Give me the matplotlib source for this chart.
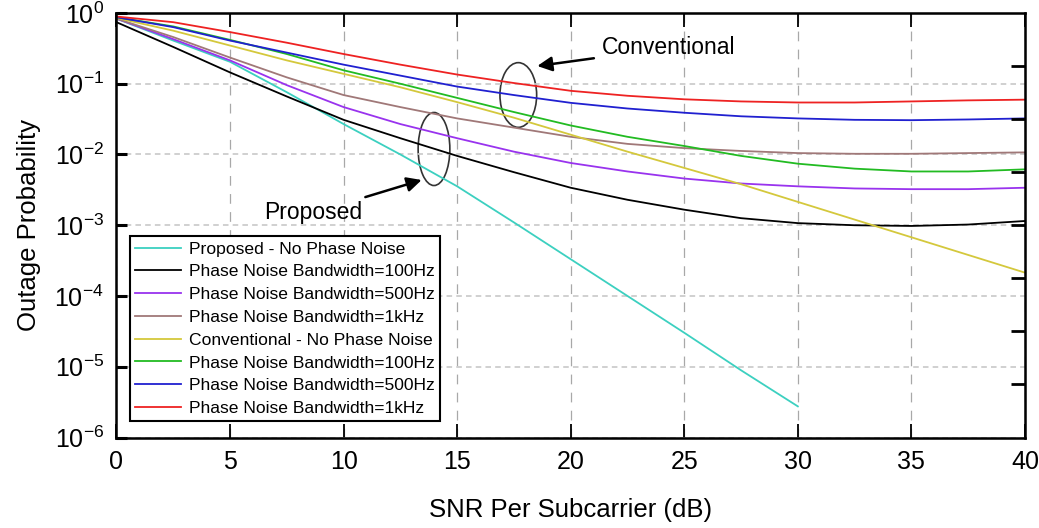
import numpy as np
import matplotlib
matplotlib.use("Agg")
import matplotlib.pyplot as plt
from matplotlib.patches import Ellipse

plt.rcParams['font.family'] = ['Liberation Sans', 'DejaVu Sans']
plt.rcParams['mathtext.fontset'] = 'custom'
plt.rcParams['mathtext.rm'] = 'Liberation Sans'
plt.rcParams['mathtext.it'] = 'Liberation Sans'
plt.rcParams['axes.unicode_minus'] = False
plt.rcParams['lines.scale_dashes'] = False

# SNR points (dB) and outage probability, stored as log10
snr = [0, 2.5, 5, 7.5, 10, 12.5, 15, 17.5, 20, 22.5, 25, 27.5, 30, 32.5, 35, 37.5, 40]
snr_nopn = [0, 2.5, 5, 7.5, 10, 12.5, 15, 17.5, 20, 22.5, 25, 27.5, 30]

prop_nopn = [-0.08, -0.39, -0.69, -1.12, -1.57, -2.0, -2.45, -2.96, -3.48, -4.0, -4.52, -5.05, -5.56]
prop_100 = [-0.13, -0.48, -0.84, -1.18, -1.51, -1.77, -2.02, -2.25, -2.47, -2.64, -2.78, -2.9, -2.97, -3.0, -3.01, -2.99, -2.94]
prop_500 = [-0.08, -0.37, -0.67, -1.02, -1.33, -1.57, -1.77, -1.96, -2.12, -2.24, -2.34, -2.41, -2.45, -2.48, -2.49, -2.49, -2.47]
prop_1k = [-0.08, -0.34, -0.63, -0.91, -1.16, -1.33, -1.49, -1.62, -1.75, -1.85, -1.91, -1.95, -1.98, -1.99, -1.99, -1.98, -1.97]
conv_nopn = [-0.07, -0.25, -0.46, -0.67, -0.86, -1.05, -1.26, -1.48, -1.72, -1.96, -2.19, -2.42, -2.67, -2.92, -3.17, -3.42, -3.67]
conv_100 = [-0.06, -0.19, -0.38, -0.58, -0.81, -1.0, -1.2, -1.40, -1.59, -1.75, -1.88, -2.02, -2.13, -2.2, -2.24, -2.24, -2.21]
conv_500 = [-0.06, -0.2, -0.39, -0.56, -0.73, -0.885, -1.04, -1.16, -1.27, -1.35, -1.41, -1.46, -1.49, -1.51, -1.515, -1.505, -1.49]
conv_1k = [-0.05, -0.13, -0.27, -0.42, -0.58, -0.73, -0.87, -0.99, -1.1, -1.17, -1.22, -1.25, -1.265, -1.265, -1.25, -1.235, -1.225]

labels = ["Proposed - No Phase Noise", "Phase Noise Bandwidth=100Hz", "Phase Noise Bandwidth=500Hz",
          "Phase Noise Bandwidth=1kHz", "Conventional - No Phase Noise", "Phase Noise Bandwidth=100Hz",
          "Phase Noise Bandwidth=500Hz", "Phase Noise Bandwidth=1kHz"]
colors = ['#3cd0c0', '#000000', '#9933ee', '#a07878', '#d4c83c', '#22bb22', '#2020d0', '#ee2222']
series = [(snr_nopn, prop_nopn), (snr, prop_100), (snr, prop_500), (snr, prop_1k),
          (snr, conv_nopn), (snr, conv_100), (snr, conv_500), (snr, conv_1k)]

fig = plt.figure(figsize=(10.39, 5.28), dpi=100)
ax = fig.add_axes([0.1121, 0.1714, 0.8744, 0.8040])

for (x, y), c, lab in zip(series, colors, labels):
    ax.plot(x, np.power(10.0, y), color=c, linewidth=1.3, label=lab)

ax.set_yscale('log')
ax.set_xlim(0, 40)
ax.set_ylim(1e-6, 1)
ax.set_xticks(range(0, 41, 5))
ax.set_yticks([10.0 ** k for k in range(-6, 1)])
ax.yaxis.set_minor_locator(matplotlib.ticker.NullLocator())
ax.tick_params(axis='both', labelsize=18)
ax.tick_params(axis='x', direction='in', length=10, width=1.3, top=True, pad=9)
ax.tick_params(axis='y', direction='in', length=8, width=2.2, right=False, pad=9)
for s in ax.spines.values():
    s.set_linewidth(1.8)

ax.xaxis.grid(True, linestyle=(0, (7, 6)), color='#a8a8a8', linewidth=0.9)
ax.yaxis.grid(True, linestyle=(0, (4, 3)), color='#c8c8c8', linewidth=1.2)

ax2 = ax.twinx()
ax2.set_ylim(0, 8)
ax2.set_yticks(range(1, 8))
ax2.tick_params(axis='y', direction='in', length=10, width=2, labelright=False)

ax.set_xlabel("SNR Per Subcarrier (dB)", fontsize=18.5, labelpad=17)
ax.set_ylabel("Outage Probability", fontsize=18.5, labelpad=10)

leg = ax.legend(loc='lower left', bbox_to_anchor=(0.015, 0.038), borderaxespad=0, fontsize=12.6,
                fancybox=False, edgecolor='black', framealpha=1, handlelength=2.6,
                handletextpad=0.45, labelspacing=0.43, borderpad=0.3)
leg.get_frame().set_linewidth(1.5)

ax.add_patch(Ellipse((0.4423, 0.8068), 0.0404, 0.1524, transform=ax.transAxes,
                     fill=False, edgecolor='#333333', linewidth=1.2))
ax.add_patch(Ellipse((0.3495, 0.6796), 0.0349, 0.172, transform=ax.transAxes,
                     fill=False, edgecolor='#333333', linewidth=1.2))

ax.annotate("Conventional", xy=(0.4632, 0.8751), xycoords='axes fraction',
            xytext=(0.6081, 0.9176), textcoords='axes fraction', fontsize=16.5,
            ha='center', va='center',
            arrowprops=dict(arrowstyle='-|>', color='black', lw=1.8, mutation_scale=22,
                            shrinkA=4, shrinkB=0))
ax.annotate("Proposed", xy=(0.3359, 0.6066), xycoords='axes fraction',
            xytext=(0.2163, 0.5289), textcoords='axes fraction', fontsize=16.5,
            ha='center', va='center',
            arrowprops=dict(arrowstyle='-|>', color='black', lw=1.8, mutation_scale=22,
                            shrinkA=4, shrinkB=0))

plt.savefig("out.png", dpi=100)
